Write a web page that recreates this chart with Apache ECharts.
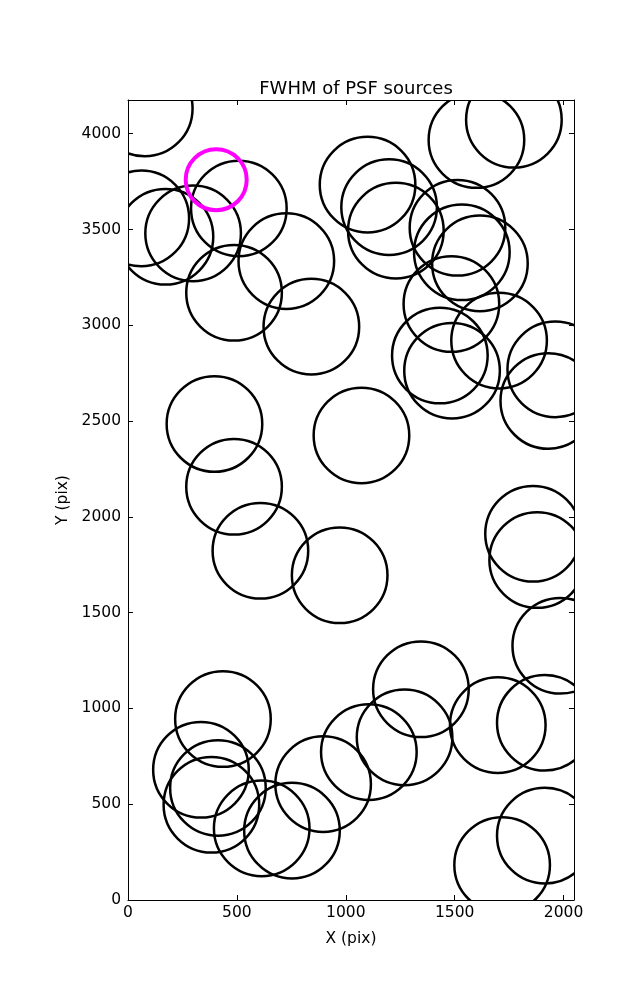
<!DOCTYPE html>
<html>
<head>
<meta charset="utf-8">
<script src="https://cdn.jsdelivr.net/npm/echarts@6/dist/echarts.min.js"></script>
<style>html,body{margin:0;padding:0;background:#fff}#c{width:637px;height:1000px}</style>
</head>
<body>
<div id="c"></div>
<script>
// PSF source positions (pix)
const srcX = [77, 61, 172, 299, 509, 487, 727, 842, 1772, 1600, 1100, 1199, 1230, 1513, 1533, 1616, 1485, 1704, 1962, 1432, 1488, 1930, 1072, 1860, 1879, 1985, 972, 397, 487, 608, 436, 335, 413, 383, 614, 753, 896, 1106, 1270, 1345, 1698, 1914, 1718, 1914];
const srcY = [4132, 3558, 3462, 3480, 3610, 3170, 3335, 2993, 4073, 3967, 3734, 3617, 3494, 3509, 3381, 3323, 3111, 2920, 2770, 2842, 2763, 2605, 2425, 1912, 1775, 1327, 1695, 2485, 2157, 1823, 945, 680, 585, 497, 374, 362, 605, 772, 849, 1100, 913, 925, 183, 336];
// highlighted source
const hiX = [405];
const hiY = [3760];
// axis ranges and ticks
const xMax = 2048;
const yMax = 4176;
const xTicks = [0, 500, 1000, 1500, 2000];
const yTicks = [0, 500, 1000, 1500, 2000, 2500, 3000, 3500, 4000];

const srcData = srcX.map((x, i) => [x, srcY[i]]);
const hiData = hiX.map((x, i) => [x, hiY[i]]);

const font = 'DejaVu Sans';
function circleRenderer(r, color, lw) {
  return function (params, api) {
    const p = api.coord([api.value(0), api.value(1)]);
    return {
      type: 'circle',
      shape: { cx: p[0], cy: p[1], r: r },
      style: { fill: 'none', stroke: color, lineWidth: lw }
    };
  };
}
const plain = v => String(v);
const axisCommon = {
  type: 'value',
  splitLine: { show: false },
  axisLine: { show: true, onZero: false, lineStyle: { color: '#000', width: 1 } },
  axisTick: { show: true, inside: true, length: 5, lineStyle: { color: '#000', width: 1 } }
};
const chart = echarts.init(document.getElementById('c'), null, { renderer: 'canvas' });
chart.setOption({
  backgroundColor: '#fff',
  animation: false,
  title: {
    text: 'FWHM of PSF sources',
    left: 351, top: 75, textAlign: 'center',
    textStyle: { fontFamily: font, fontSize: 18, fontWeight: 'normal', color: '#000' }
  },
  grid: { left: 128, right: 63, top: 100, bottom: 100, containLabel: false },
  xAxis: [
    Object.assign({}, axisCommon, {
      position: 'bottom', min: 0, max: xMax,
      name: 'X (pix)', nameLocation: 'middle', nameGap: 31,
      nameTextStyle: { fontFamily: font, fontSize: 15.5, color: '#000' },
      axisTick: Object.assign({}, axisCommon.axisTick, { customValues: xTicks }),
      axisLabel: { customValues: xTicks, formatter: plain, margin: 5, fontFamily: font, fontSize: 15.5, color: '#000' }
    }),
    Object.assign({}, axisCommon, {
      position: 'top', min: 0, max: xMax,
      axisTick: Object.assign({}, axisCommon.axisTick, { customValues: xTicks }),
      axisLabel: { show: false }
    })
  ],
  yAxis: [
    Object.assign({}, axisCommon, {
      position: 'left', min: 0, max: yMax,
      name: 'Y (pix)', nameLocation: 'middle', nameGap: 53,
      nameTextStyle: { fontFamily: font, fontSize: 15.5, color: '#000' },
      axisTick: Object.assign({}, axisCommon.axisTick, { customValues: yTicks }),
      axisLabel: { customValues: yTicks, formatter: plain, margin: 7, fontFamily: font, fontSize: 15.5, color: '#000' }
    }),
    Object.assign({}, axisCommon, {
      position: 'right', min: 0, max: yMax,
      axisTick: Object.assign({}, axisCommon.axisTick, { customValues: yTicks }),
      axisLabel: { show: false }
    })
  ],
  series: [
    {
      type: 'custom', xAxisIndex: 0, yAxisIndex: 0, clip: true,
      renderItem: circleRenderer(47.8, '#000', 2.5),
      data: srcData, z: 2
    },
    {
      type: 'custom', xAxisIndex: 0, yAxisIndex: 0, clip: true,
      renderItem: circleRenderer(30.5, '#ff00ff', 4),
      data: hiData, z: 3
    }
  ]
});
</script>
</body>
</html>
